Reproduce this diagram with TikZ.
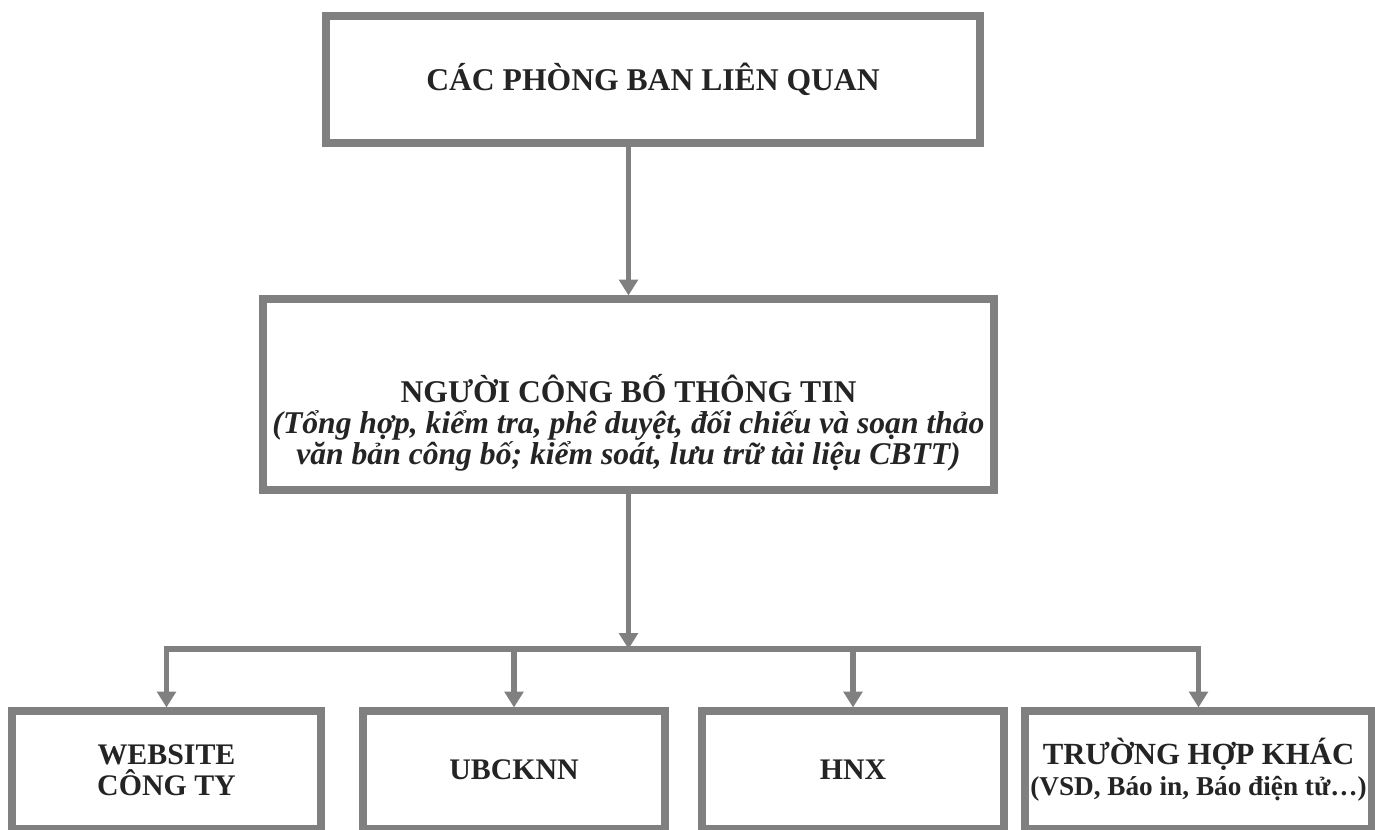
\documentclass[tikz,border=0pt]{standalone}
\usepackage{fontspec}
\setmainfont{Liberation Serif}
\usepackage{tikz}
\usetikzlibrary{arrows.meta}

\definecolor{framegray}{RGB}{128,128,128}
\definecolor{inkgray}{RGB}{36,36,36}

\newcommand{\noteline}[1]{{\itshape\fontsize{18}{17.5}\selectfont #1}}
\newcommand{\smallline}[1]{{\fontsize{15.5}{17.5}\selectfont #1}}
\newcommand{\toppad}{\rule{0pt}{1.7cm}}

\begin{document}
\begin{tikzpicture}[
	box/.style={draw=framegray,line width=4pt,fill=white,text=inkgray,align=center,inner sep=0pt,font=\bfseries\fontsize{17}{17.5}\selectfont},
	topbox/.style={box,minimum width=13.08cm,minimum height=2.54cm},
	midbox/.style={box,minimum width=14.62cm,minimum height=3.82cm},
	lowbox/.style={box,minimum width=6.04cm,minimum height=2.36cm},
	link/.style={draw=framegray,line width=3.4pt},
	arr/.style={link,-{Triangle[width=10.5pt,length=9pt]}}
	]
	\useasboundingbox (0,0) rectangle (27.5,16.6);
	
	%boxes
	\node[topbox,font=\bfseries\fontsize{18}{18}\selectfont] (phongban) at (13.06,15.01) {CÁC PHÒNG BAN LIÊN QUAN};
	\node[midbox,font=\bfseries\fontsize{18}{17.5}\selectfont] (nguoicbtt) at (12.57,8.71) {\toppad NGƯỜI CÔNG BỐ THÔNG TIN\\
		\noteline{(Tổng hợp, kiểm tra, phê duyệt, đối chiếu và soạn thảo}\\
		\noteline{văn bản công bố; kiểm soát, lưu trữ tài liệu CBTT)}};
	%
	\node[lowbox,minimum width=6.18cm] (website) at (3.33,1.2) {WEBSITE\\CÔNG TY};
	\node[lowbox] (ubcknn) at (10.28,1.2) {UBCKNN};
	\node[lowbox] (hnx)    at (17.06,1.2) {HNX};
	\node[lowbox,minimum width=6.94cm] (khac) at (23.97,1.2) {{\fontsize{17.5}{17.5}\selectfont TRƯỜNG HỢP KHÁC}\\
		\smallline{(VSD, Báo in, Báo điện tử…)}};
	
	%arrows
	\coordinate (bus) at (12.57,3.62);
	\draw[arr] (phongban.south -| nguoicbtt.north) -- (nguoicbtt.north);
	\draw[arr] (nguoicbtt.south) -- (bus);
	\draw[arr] (bus) -| (website.north);
	\draw[arr] (bus) -| (khac.north);
	\foreach \n in {ubcknn,hnx}
		\draw[arr] (\n.north |- bus) -- (\n.north);
\end{tikzpicture}
\end{document}
